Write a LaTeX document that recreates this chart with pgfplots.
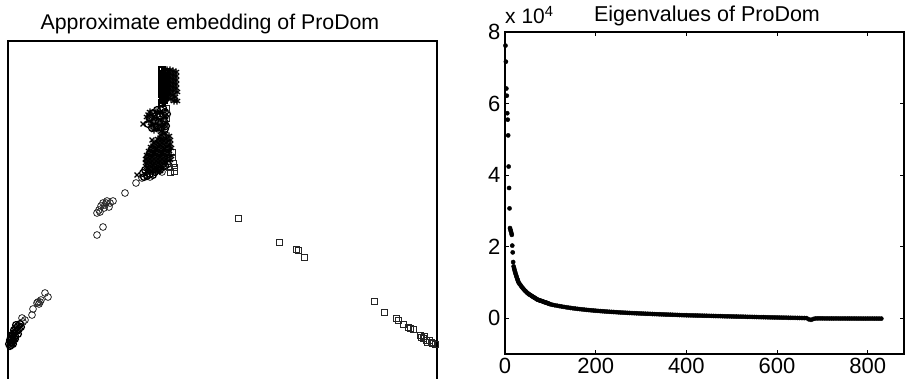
\documentclass[border=0pt]{standalone}
\usepackage{pgfplots}
\pgfplotsset{compat=1.18}
\usepackage{fontspec}
\setmainfont{Liberation Sans}
\begin{document}
\begin{tikzpicture}[x=1pt,y=1pt]
\useasboundingbox (0,0) rectangle (905,378);
\clip (0,0) rectangle (905,378);
% ---------------- left: embedding (image-pixel coordinates) ----------------
\begin{axis}[
  at={(8pt,-20pt)}, anchor=south west, scale only axis,
  width=429pt, height=357pt,
  xmin=8, xmax=437, ymin=41, ymax=398, y dir=reverse,
  xtick=\empty, ytick=\empty,
  axis line style={line width=1.3pt},
  clip=false,
  every axis plot/.append style={only marks, mark options={draw=black!85, line width=0.8pt}},
]
% sparse circles
\addplot[mark=o, mark size=3.4pt] coordinates {
(23,322)(22,318)(25,320)(32,315)(33,309)(37,303)(38,302)(40,302)(39,304)(45,293)(48,297)(41,300)
(97,235)(103,227)(97,213)(99,210)(101,206)(103,203)(105,205)(107,201)(109,207)(110,203)(113,201)
(104,208)(100,212)(106,203)(125,193)(136,183)(142,178)(147,175)(150,177)(156,171)(162,172)(144,177)
};
% dense circles (blobs)
\addplot[mark=o, mark size=3.4pt, mark options={line width=1.3pt, draw=black}] coordinates {
(10,346)(11,343)(9,344)(10,340)(12,338)(13,341)(11,345)(13,344)(12,335)(14,333)(15,336)(14,330)
(16,328)(17,331)(18,326)(19,329)(20,324)(21,327)(16,325)(15,339)(18,334)(12,342)(11,337)(14,338)
(163,108)(157,110)(161,110)(165,112)(153,113)(163,114)(150,118)(155,121)(159,122)(164,121)(148,124)
(152,128)(157,127)(161,128)(165,129)(166,126)(160,116)(167,114)
(163,137)(160,141)(156,145)(164,141)(152,149)(160,149)(168,149)(150,153)(158,153)(166,153)(148,157)
(156,157)(164,157)(148,161)(156,161)(164,161)(168,164)(149,165)(157,165)(165,166)(150,169)(158,169)
(145,170)(150,174)(155,172)(160,170)(147,176)(153,175)(143,173)(144,177)
};
% squares
\addplot[mark=square, mark size=3.1pt] coordinates {
(166,108)(166,118)(164,124)
(172,152)(172,157)(173,163)(174,167)(174,171)(169,167)(170,172)
(238,218)(279,242)(296,249)(298,250)(304,257)
(374,301)(384,312)(396,318)(398,320)(403,324)(408,327)(410,328)(413,329)(420,335)(421,337)
(423,338)(426,340)(429,340)(431,342)(432,343)(435,344)(424,336)(427,342)
};
\addplot[mark=square, mark size=3.1pt, mark options={line width=1.3pt, draw=black}] coordinates {
(162,70)(162,74)(162,78)(162,82)(162,86)(162,90)(162,94)(163,98)(165,72)(165,80)(165,88)(165,96)
(164,100)(162,103)(164,76)(164,84)(164,92)
};
% asterisks
\addplot[mark=asterisk, mark size=3.6pt, mark options={line width=1.3pt, draw=black}] coordinates {
(167,70)(170,70)(173,71)(176,72)(167,74)(170,74)(173,75)(176,76)(167,78)(170,78)(173,79)(176,80)
(167,82)(170,82)(173,83)(176,84)(167,86)(170,86)(173,87)(176,88)(167,90)(170,90)(173,91)(177,92)
(167,94)(170,94)(173,95)(175,97)(168,98)(171,99)(174,101)(177,101)
(150,112)(147,117)(152,115)(156,112)(160,113)(149,121)(153,119)(157,118)(161,120)(165,117)
(151,126)(155,124)(159,125)(163,126)(166,123)(154,130)(158,129)(162,131)
(161,135)(165,134)(169,136)(158,139)(162,139)(166,139)(170,140)(154,143)(158,143)(162,143)(166,143)(170,144)
(151,147)(155,147)(159,147)(163,147)(167,147)(171,148)(149,151)(153,151)(157,151)(161,151)(165,151)(169,151)
(147,155)(151,155)(155,155)(159,155)(163,155)(167,155)(171,156)(146,159)(150,159)(154,159)(158,159)(162,159)
(166,159)(170,160)(146,163)(150,163)(154,163)(158,163)(162,163)(166,163)(147,167)(151,167)(155,167)(159,167)
(163,167)(148,171)(152,171)(156,171)(160,171)
};
% crosses
\addplot[mark=x, mark size=3.4pt, mark options={line width=1.2pt, draw=black}] coordinates {
(143,124)(152,140)(137,175)(148,115)
};
\end{axis}
\node[anchor=base, font=\fontsize{21.3}{21.3}\selectfont] at (210,348) {Approximate embedding of ProDom};
% ---------------- right: eigenvalues ----------------
\begin{axis}[
  at={(505pt,24pt)}, anchor=south west, scale only axis,
  width=399pt, height=322pt,
  xmin=0, xmax=880, ymin=-1, ymax=8,
  xtick={0,200,400,600,800}, ytick={0,2,4,6,8},
  tick align=inside, major tick length=4pt,
  tick style={line width=0.8pt, black},
  axis line style={line width=1.3pt},
  /pgf/number format/assume math mode=true,
  ticklabel style={font=\fontsize{22}{22}\selectfont},
  xticklabel style={yshift=-1pt},
  yticklabel style={xshift=-1pt},
  clip=false,
]
\addplot[only marks, mark=*, mark size=2.1pt, black] coordinates {
(1,7.62)(2,7.17)(3,6.42)(4,6.22)(5,5.73)(6,5.55)(7,5.11)(8,4.24)(9,3.64)(10,3.07)
(11,2.52)(12,2.47)(13,2.43)(14,2.38)(15,2.33)(16,2.03)(17,1.84)(18,1.57)(19,1.45)(20,1.40)
(21,1.35)(22,1.30)(23,1.26)(24,1.22)(25,1.18)(26,1.14)(27,1.10)(28,1.07)(29,1.03)(30,1.00)
(32,0.96)(34,0.93)(36,0.89)(38,0.86)(40,0.83)(42,0.80)(44,0.77)(46,0.75)(48,0.72)(50,0.70)
(52,0.68)(54,0.66)(56,0.65)(58,0.63)(60,0.61)(62,0.60)(64,0.58)(66,0.57)(68,0.55)(70,0.53)
(72,0.52)(74,0.51)(76,0.50)(78,0.49)(80,0.485)(82,0.475)(84,0.465)(86,0.455)(88,0.445)(90,0.44)
(92,0.43)(94,0.42)(96,0.41)(98,0.40)
(100,0.390)(105,0.375)(110,0.362)(115,0.350)(120,0.338)(125,0.327)(130,0.316)(135,0.306)
(140,0.296)(145,0.287)(150,0.278)(155,0.270)(160,0.262)(165,0.255)(170,0.248)(175,0.241)
(180,0.234)(185,0.228)(190,0.222)(195,0.216)(200,0.210)(205,0.205)(210,0.200)(215,0.195)
(220,0.190)(225,0.186)(230,0.181)(235,0.177)(240,0.173)(245,0.169)(250,0.165)(255,0.161)
(260,0.158)(265,0.154)(270,0.151)(275,0.147)(280,0.144)(285,0.141)(290,0.138)(295,0.135)
(300,0.132)(305,0.129)(310,0.126)(315,0.124)(320,0.121)(325,0.118)(330,0.116)(335,0.113)
(340,0.111)(345,0.108)(350,0.106)(355,0.103)(360,0.101)(365,0.099)(370,0.096)(375,0.094)
(380,0.092)(385,0.089)(390,0.087)(395,0.085)(400,0.083)(405,0.081)(410,0.080)(415,0.078)
(420,0.076)(425,0.075)(430,0.073)(435,0.071)(440,0.070)(445,0.068)(450,0.066)(455,0.065)
(460,0.063)(465,0.061)(470,0.060)(475,0.058)(480,0.056)(485,0.055)(490,0.053)(495,0.052)
(500,0.050)(505,0.048)(510,0.047)(515,0.045)(520,0.044)(525,0.042)(530,0.041)(535,0.039)
(540,0.038)(545,0.036)(550,0.035)(555,0.033)(560,0.032)(565,0.030)(570,0.029)(575,0.027)
(580,0.026)(585,0.024)(590,0.023)(595,0.021)(600,0.020)(605,0.019)(610,0.017)(615,0.016)
(620,0.015)(625,0.013)(630,0.012)(635,0.011)(640,0.010)(645,0.008)(650,0.007)(655,0.006)
(660,0.005)(665,0.003)(670,-0.030)(675,-0.045)(680,-0.020)(685,-0.006)(690,-0.005)(695,-0.005)
(700,-0.005)(705,-0.006)(710,-0.006)(715,-0.006)(720,-0.007)(725,-0.007)(730,-0.007)(735,-0.007)
(740,-0.008)(745,-0.008)(750,-0.008)(755,-0.008)(760,-0.008)(765,-0.009)(770,-0.009)(775,-0.009)
(780,-0.009)(785,-0.009)(790,-0.010)(795,-0.010)(800,-0.010)(805,-0.010)(810,-0.010)(815,-0.010)
(820,-0.010)(825,-0.010)(830,-0.010)
};
\end{axis}
\node[anchor=base, font=\fontsize{21.5}{21.5}\selectfont] at (707,356) {Eigenvalues of ProDom};
\node[anchor=base west, inner sep=0pt, font=\fontsize{21}{21}\selectfont] at (505,354) {x 10\textsuperscript{4}};
\end{tikzpicture}
\end{document}
